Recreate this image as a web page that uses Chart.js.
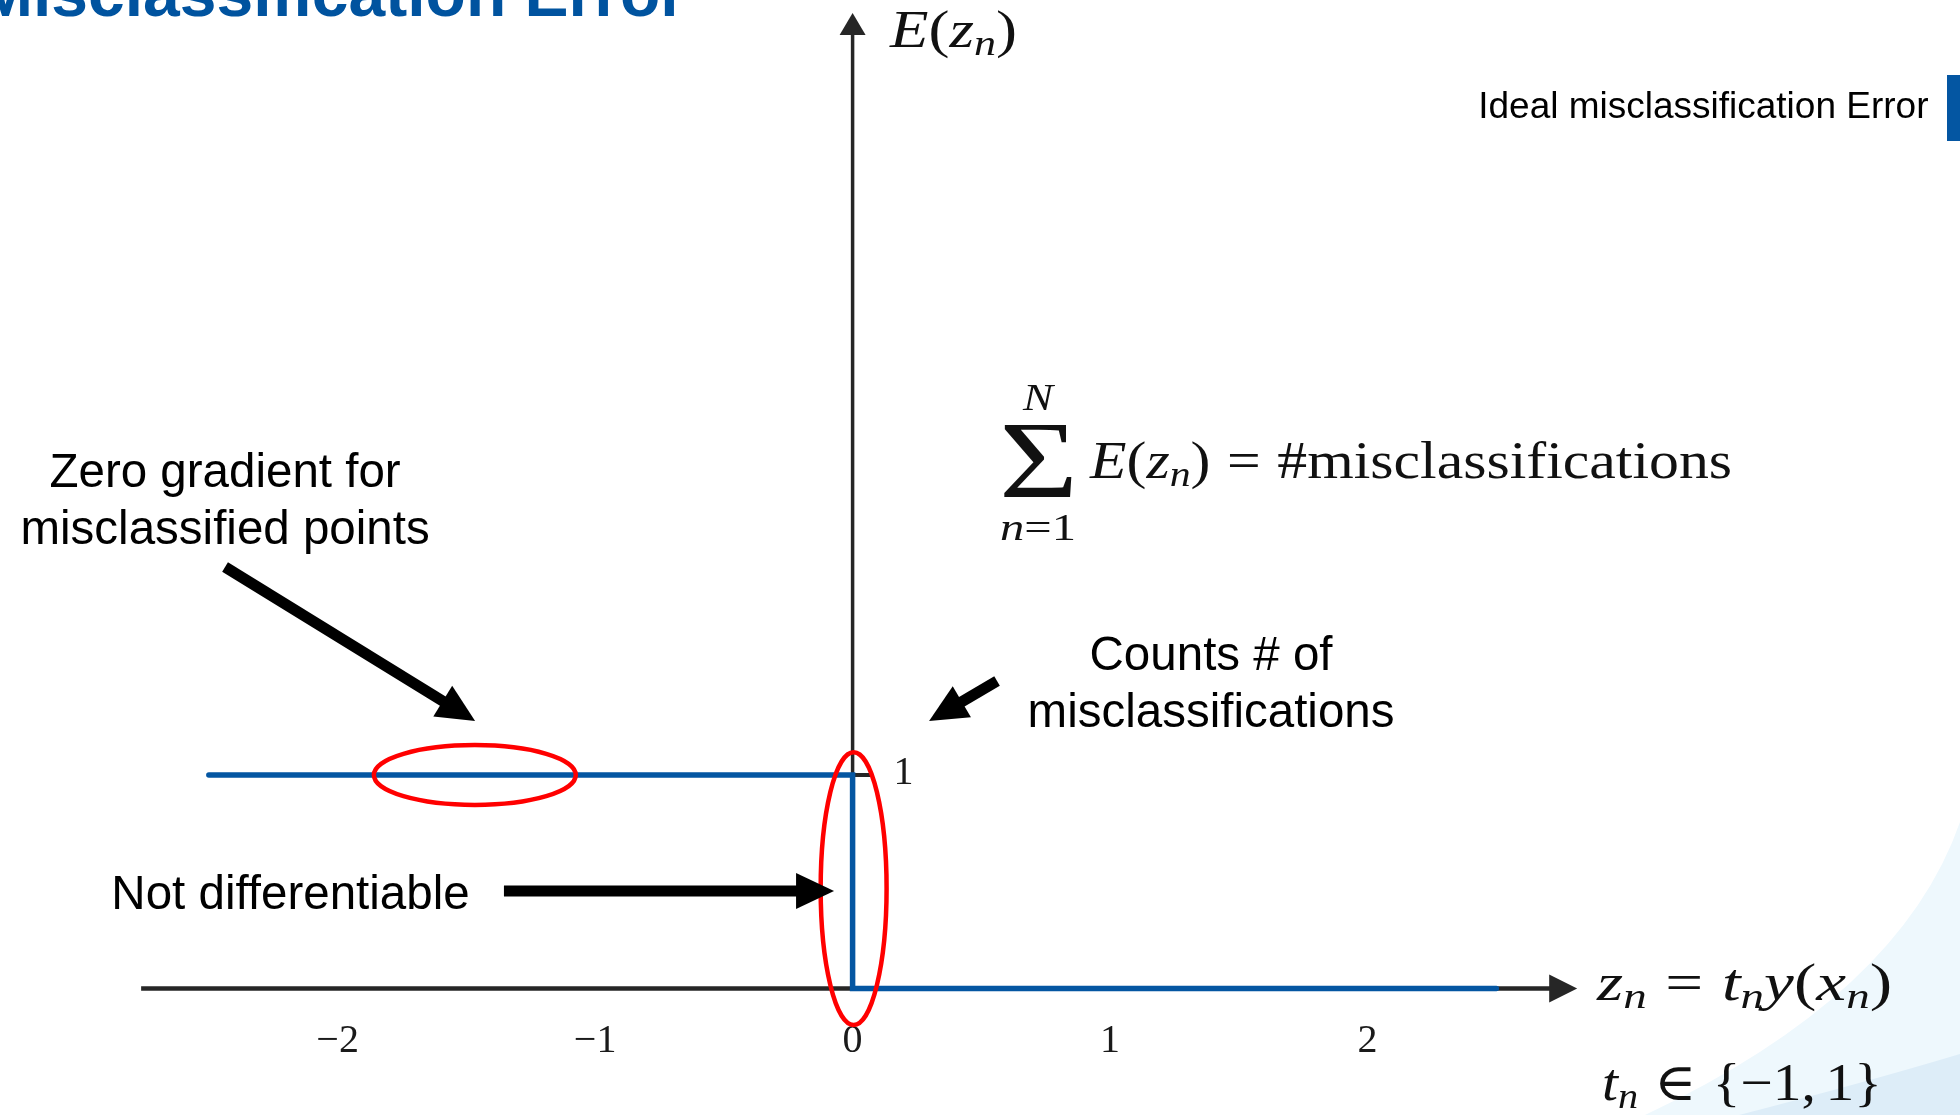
<!DOCTYPE html>
<html>
<head>
<meta charset="utf-8">
<title>Misclassification Error</title>
<script src="https://cdn.jsdelivr.net/npm/chart.js@4/dist/chart.umd.min.js"></script>
<style>
  html, body { margin: 0; padding: 0; background: #ffffff; overflow: hidden; }
  #frame { position: relative; width: 1960px; height: 1115px; overflow: hidden; background: #ffffff; }
  #plot { position: absolute; left: -40px; top: -60px; }
</style>
</head>
<body>
<div id="frame"><canvas id="plot" width="2037" height="1175"></canvas></div>
<script>
// ---- series: ideal 0/1 misclassification error E(z) ----
const stepX = [-2.5, 0, 0, 2.5];
const stepY = [1, 1, 0, 0];
const seriesLabel = 'Ideal misclassification Error';

// ---- axis ticks ----
const xTickValues = [-2, -1, 0, 1, 2];
const xTickLabels = ['\u22122', '\u22121', '0', '1', '2'];
const yTickValues = [1];
const yTickLabels = ['1'];

// ---- axis ranges (value units) ----
const X_MIN = -3.3965, X_MAX = 4.4443;
const Y_MIN = 0, Y_MAX = 3.9227;
const xAxisFrom = -2.763, xAxisTo = 2.814;   // drawn x axis, ends in arrow head
const yAxisTo = 4.569;                        // drawn y axis, ends in arrow head

// ---- highlighted regions (value units) ----
const ringX = [-1.467, 0.004];
const ringY = [1.0, 0.468];
const ringRX = [0.392, 0.128];
const ringRY = [0.14, 0.639];

// ---- pointer arrows (value units) ----
const arrowFromX = [-2.437, 0.561, -1.354];
const arrowFromY = [1.974, 1.440, 0.457];
const arrowToX = [-1.466, 0.297, -0.072];
const arrowToY = [1.253, 1.253, 0.457];

// ---- callout texts (anchor = centre of first line, value units) ----
const noteLines = [
  ['Zero gradient for', 'misclassified points'],
  ['Counts # of', 'misclassifications'],
  ['Not differentiable']
];
const noteX = [-2.437, 1.392, -2.183];
const noteY = [2.409, 1.552, 0.432];

const BLUE = '#0456a2';
const TITLE_BLUE = '#00539f';
const AXIS = '#262626';
const RED = '#ff0000';
const SANS = '"Liberation Sans", Arial, Helvetica, sans-serif';
const SERIF = '"Liberation Serif", "Times New Roman", "DejaVu Serif", serif';
const PAGE_DX = 40, PAGE_DY = 60;   // canvas offset inside the page frame

// ---- formula typesetting: [text, style] runs, numbers are spaces in em ----
// style: 'i' italic, 'r' upright, 'si' italic subscript, 'sr' upright subscript
const formulas = [
  { runs: [['E','i'],['(','r'],['z','i'],['n','si'],[')','r']],
    x: 0.145, y: 4.410, size: 52, width: 127 },
  { runs: [['E','i'],['(','r'],['z','i'],['n','si'],[')','r'],0.278,['=','r'],0.278,['#misclassifications','r']],
    x: 0.922, y: 2.391, size: 52, width: 642 },
  { runs: [['z','i'],['n','si'],0.278,['=','r'],0.278,['t','i'],['n','si'],['y','i'],['(','r'],['x','i'],['n','si'],[')','r']],
    x: 2.891, y: -0.054, size: 52, width: 295 },
  { runs: [['t','i'],['n','si'],0.278,['\u2208','r'],0.278,['{','r'],['\u2212','r'],['1','r'],[',','r'],0.167,['1','r'],['}','r']],
    x: 2.910, y: -0.522, size: 52, width: 280 }
];
// summation sign with its limits
const sumSign = { x: 0.720, y: 2.471, w: 68, h: 72 };
const sumLimits = [
  { runs: [['N','i']], x: 0.720, y: 2.710, size: 37, width: 30 },
  { runs: [['n','i'],['=','r'],['1','r']], x: 0.720, y: 2.101, size: 38, width: 76 }
];

function layoutRuns(ctx, runs, size) {
  let w = 0; const items = [];
  for (const r of runs) {
    if (typeof r === 'number') { items.push({ gap: r * size }); w += r * size; continue; }
    const [text, style] = r;
    const sub = style[0] === 's' && style.length === 2;
    const italic = style[style.length - 1] === 'i';
    const fs = sub ? size * 0.7 : size;
    const font = (italic ? 'italic ' : '') + fs + 'px ' + SERIF;
    ctx.font = font;
    const tw = ctx.measureText(text).width;
    items.push({ text, font, dy: sub ? size * 0.15 : 0, w: tw });
    w += tw;
  }
  return { items, w };
}

function drawRuns(ctx, runs, x, y, size, fitW, centred) {
  const { items, w } = layoutRuns(ctx, runs, size);
  const sx = fitW ? fitW / w : 1;
  ctx.save();
  ctx.translate(centred ? x - (w * sx) / 2 : x, y);
  ctx.scale(sx, 1);
  ctx.textAlign = 'left';
  ctx.textBaseline = 'alphabetic';
  let cx = 0;
  for (const it of items) {
    if (it.gap !== undefined) { cx += it.gap; continue; }
    ctx.font = it.font;
    ctx.fillText(it.text, cx, it.dy);
    cx += it.w;
  }
  ctx.restore();
}

function drawFitted(ctx, text, font, cx, cy, w, h) {
  ctx.save();
  ctx.font = font;
  ctx.textAlign = 'left';
  ctx.textBaseline = 'alphabetic';
  const m = ctx.measureText(text);
  const bw = m.actualBoundingBoxLeft + m.actualBoundingBoxRight;
  const bh = m.actualBoundingBoxAscent + m.actualBoundingBoxDescent;
  ctx.translate(cx, cy);
  ctx.scale(w / bw, h / bh);
  ctx.fillText(text, -bw / 2 + m.actualBoundingBoxLeft, bh / 2 - m.actualBoundingBoxDescent);
  ctx.restore();
}

function drawArrow(ctx, x1, y1, x2, y2, shaft, headLen, headHalf) {
  const dx = x2 - x1, dy = y2 - y1, L = Math.hypot(dx, dy);
  const ux = dx / L, uy = dy / L;
  const bx = x2 - ux * headLen, by = y2 - uy * headLen;
  ctx.lineWidth = shaft;
  ctx.lineCap = 'butt';
  ctx.beginPath();
  ctx.moveTo(x1, y1);
  ctx.lineTo(bx + ux * 2, by + uy * 2);
  ctx.stroke();
  ctx.beginPath();
  ctx.moveTo(x2, y2);
  ctx.lineTo(bx - uy * headHalf, by + ux * headHalf);
  ctx.lineTo(bx + uy * headHalf, by - ux * headHalf);
  ctx.closePath();
  ctx.fill();
}

// slide backdrop: soft blue sweeps in the lower right corner
const backdropPlugin = {
  id: 'backdrop',
  beforeDraw(chart) {
    const ctx = chart.ctx;
    const P = (x, y) => [x + PAGE_DX, y + PAGE_DY];
    ctx.save();
    ctx.fillStyle = '#ffffff';
    ctx.fillRect(0, 0, chart.width, chart.height);
    ctx.fillStyle = '#eef8fd';
    ctx.beginPath();
    ctx.moveTo(...P(2040, 700));
    ctx.lineTo(...P(1960, 822));
    ctx.quadraticCurveTo(...P(1900, 995), ...P(1645, 1115));
    ctx.lineTo(...P(1600, 1140));
    ctx.lineTo(...P(2040, 1140));
    ctx.closePath();
    ctx.fill();
    ctx.fillStyle = '#ddedf8';
    ctx.beginPath();
    ctx.moveTo(...P(2040, 1025));
    ctx.lineTo(...P(1960, 1054));
    ctx.quadraticCurveTo(...P(1850, 1087), ...P(1700, 1125));
    ctx.lineTo(...P(1700, 1140));
    ctx.lineTo(...P(2040, 1140));
    ctx.closePath();
    ctx.fill();
    ctx.restore();
  }
};

const diagramPlugin = {
  id: 'diagram',
  beforeDatasetsDraw(chart) {
    const ctx = chart.ctx, xs = chart.scales.x, ys = chart.scales.y;
    const px = v => xs.getPixelForValue(v), py = v => ys.getPixelForValue(v);
    ctx.save();
    ctx.strokeStyle = AXIS;
    ctx.fillStyle = AXIS;
    ctx.lineWidth = 4.5;
    // horizontal axis with arrow head
    const x0 = px(xAxisFrom), x1 = px(xAxisTo), yZero = py(0);
    ctx.beginPath();
    ctx.moveTo(x0, yZero);
    ctx.lineTo(x1 - 26, yZero);
    ctx.stroke();
    ctx.beginPath();
    ctx.moveTo(x1, yZero);
    ctx.lineTo(x1 - 28, yZero - 14);
    ctx.lineTo(x1 - 28, yZero + 14);
    ctx.closePath();
    ctx.fill();
    // vertical axis with arrow head
    const xZero = px(0), yTop = py(yAxisTo);
    ctx.lineWidth = 3.5;
    ctx.beginPath();
    ctx.moveTo(xZero, yZero);
    ctx.lineTo(xZero, yTop + 20);
    ctx.stroke();
    ctx.beginPath();
    ctx.moveTo(xZero, yTop);
    ctx.lineTo(xZero - 13, yTop + 22);
    ctx.lineTo(xZero + 13, yTop + 22);
    ctx.closePath();
    ctx.fill();
    // y ticks on the right of the axis
    ctx.lineWidth = 4;
    ctx.font = '40px ' + SERIF;
    ctx.textAlign = 'center';
    ctx.textBaseline = 'middle';
    yTickValues.forEach((v, i) => {
      const yy = py(v);
      ctx.beginPath();
      ctx.moveTo(xZero, yy);
      ctx.lineTo(xZero + 18, yy);
      ctx.stroke();
      ctx.fillStyle = '#1a1a1a';
      ctx.fillText(yTickLabels[i], xZero + 51, yy - 1);
    });
    ctx.restore();
  },
  afterDatasetsDraw(chart) {
    const ctx = chart.ctx, xs = chart.scales.x, ys = chart.scales.y;
    const px = v => xs.getPixelForValue(v), py = v => ys.getPixelForValue(v);
    ctx.save();
    // red highlight rings
    ctx.strokeStyle = RED;
    ctx.lineWidth = 4.5;
    ringX.forEach((cx, i) => {
      const rx = px(cx + ringRX[i]) - px(cx);
      const ry = py(ringY[i]) - py(ringY[i] + ringRY[i]);
      ctx.beginPath();
      ctx.ellipse(px(cx), py(ringY[i]), rx, ry, 0, 0, Math.PI * 2);
      ctx.stroke();
    });
    // pointer arrows
    ctx.strokeStyle = '#000000';
    ctx.fillStyle = '#000000';
    arrowFromX.forEach((fx, i) => {
      drawArrow(ctx, px(fx), py(arrowFromY[i]), px(arrowToX[i]), py(arrowToY[i]), 11, 38, 18);
    });
    // callout texts
    ctx.font = '47.5px ' + SANS;
    ctx.textAlign = 'center';
    ctx.textBaseline = 'middle';
    noteLines.forEach((lines, i) => {
      lines.forEach((t, j) => ctx.fillText(t, px(noteX[i]), py(noteY[i]) + j * 56.5));
    });
    // formulas
    ctx.fillStyle = '#111111';
    formulas.forEach(f => drawRuns(ctx, f.runs, px(f.x), py(f.y), f.size, f.width, false));
    drawFitted(ctx, '\u03A3', '110px ' + SERIF, px(sumSign.x), py(sumSign.y), sumSign.w, sumSign.h);
    sumLimits.forEach(f => drawRuns(ctx, f.runs, px(f.x), py(f.y), f.size, f.width, true));
    ctx.restore();
  }
};

new Chart(document.getElementById('plot'), {
  type: 'line',
  data: {
    datasets: [{
      label: seriesLabel,
      data: stepX.map((x, i) => ({ x, y: stepY[i] })),
      borderColor: BLUE,
      backgroundColor: BLUE,
      borderWidth: 5.5,
      borderCapStyle: 'round',
      borderJoinStyle: 'miter',
      pointRadius: 0,
      pointHoverRadius: 0,
      tension: 0,
      fill: false,
      clip: false
    }]
  },
  options: {
    responsive: false,
    animation: false,
    devicePixelRatio: 1,
    events: [],
    layout: { padding: { left: 18, right: 0, top: 0, bottom: 21.5 } },
    plugins: {
      title: {
        display: true,
        text: 'Misclassification Error',
        align: 'start',
        color: TITLE_BLUE,
        font: { family: SANS, weight: 'bold', size: 66, lineHeight: 1.2 },
        padding: { top: 18.5, bottom: 27.3 }
      },
      legend: {
        display: true,
        position: 'top',
        align: 'start',
        rtl: true,
        textDirection: 'ltr',
        labels: {
          boxWidth: 40,
          boxHeight: 66,
          padding: 10,
          color: '#000000',
          font: { family: SANS, size: 37 },
          generateLabels: chart => Chart.defaults.plugins.legend.labels.generateLabels(chart)
            .map(item => Object.assign(item, { lineWidth: 0 }))
        }
      },
      tooltip: { enabled: false }
    },
    scales: {
      x: {
        type: 'linear',
        min: X_MIN,
        max: X_MAX,
        afterBuildTicks: axis => { axis.ticks = xTickValues.map(v => ({ value: v })); },
        grid: { display: false, drawTicks: false },
        border: { display: false },
        ticks: {
          padding: 28.5,
          color: '#1a1a1a',
          font: { family: SERIF, size: 40 },
          autoSkip: false,
          maxRotation: 0,
          callback: v => { const k = xTickValues.indexOf(v); return k >= 0 ? xTickLabels[k] : ''; }
        }
      },
      y: { type: 'linear', display: false, min: Y_MIN, max: Y_MAX }
    }
  },
  plugins: [backdropPlugin, diagramPlugin]
});
</script>
</body>
</html>
